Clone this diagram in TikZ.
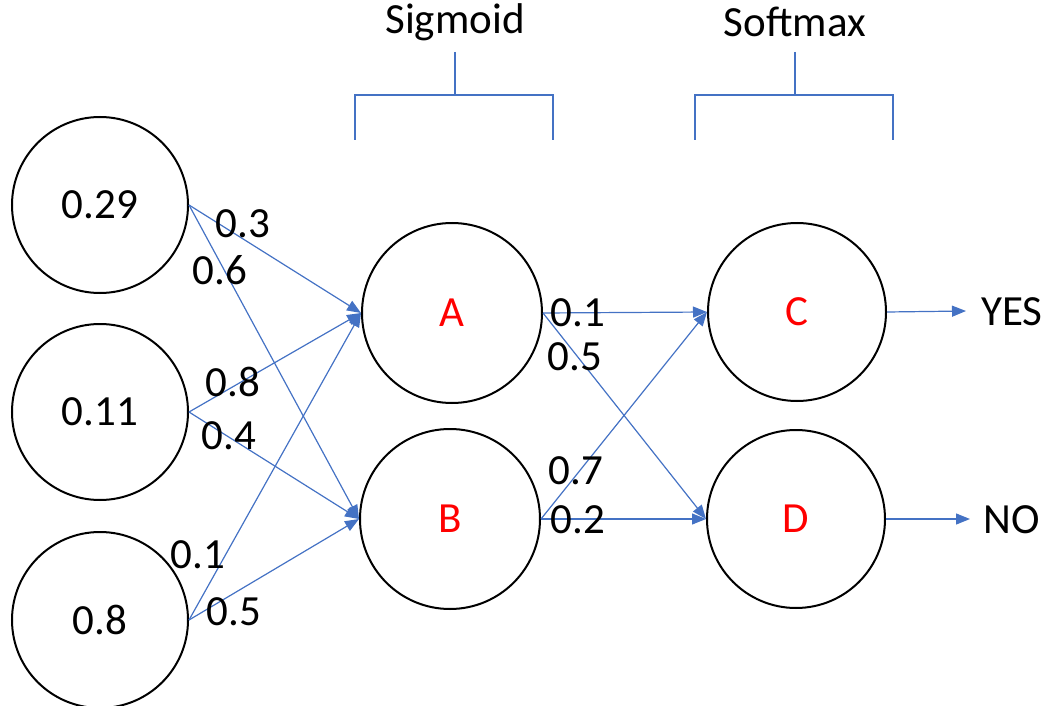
\documentclass[tikz,border=0pt]{standalone}
\usepackage{fontspec}
\setmainfont{Carlito}
\usetikzlibrary{arrows.meta}
\definecolor{lineblue}{RGB}{68,114,196}
\begin{document}
\begin{tikzpicture}[x=1pt,y=-1pt,
  neuron/.style={draw=black,line width=2pt,circle,minimum size=#1,inner sep=0pt,font=\fontsize{43}{50}\selectfont},
  neuron/.default=176pt,
  lbl/.style={font=\fontsize{43}{50}\selectfont,inner sep=0pt},
  conn/.style={draw=lineblue,line width=1.2pt,-{Triangle[length=14pt,width=11pt]}},
  brk/.style={draw=lineblue,line width=2.5pt}]
\useasboundingbox (0,0) rectangle (1050,706);
% input nodes
\node[neuron] (i1) at (100,205) {0.29};
\node[neuron] (i2) at (100,412) {0.11};
\node[neuron] (i3) at (100,620) {0.8};
% hidden
\node[neuron=180pt,text=red] (A) at (452,313) {A};
\node[neuron=180pt,text=red] (B) at (450,519) {B};
% output
\node[neuron=178pt,text=red] (C) at (797,312) {C};
\node[neuron=178pt,text=red] (D) at (796,519) {D};
% outputs text
\node[lbl] (yes) at (1012,312) {YES};
\node[lbl] (no) at (1012,520) {NO};
\coordinate (yesend) at (966,311);
\coordinate (noend) at (970,519);
% connectors
\draw[conn] (i1.east) -- (A.west);
\draw[conn] (i1.east) -- (B.west);
\draw[conn] (i2.east) -- (A.west);
\draw[conn] (i2.east) -- (B.west);
\draw[conn] (i3.east) -- (A.west);
\draw[conn] (i3.east) -- (B.west);
\draw[conn] (A.east) -- (C.west);
\draw[conn] (A.east) -- (D.west);
\draw[conn] (B.east) -- (C.west);
\draw[conn] (B.east) -- (D.west);
\draw[conn] (C.east) -- (yesend);
\draw[conn] (D.east) -- (noend);
% weights
\node[lbl] (w1) at (243,224) {0.3};
\node[lbl] (w2) at (220,270) {0.6};
\node[lbl] (w3) at (233,382) {0.8};
\node[lbl] (w4) at (229,436) {0.4};
\node[lbl] (w5) at (198,555) {0.1};
\node[lbl] (w6) at (234,612) {0.5};
\node[lbl] (w7) at (578,313) {0.1};
\node[lbl] (w8) at (575,357) {0.5};
\node[lbl] (w9) at (576,471) {0.7};
\node[lbl] (w10) at (578,520) {0.2};
% brackets
\node[lbl] (sig) at (455,22) {Sigmoid};
\node[lbl] (soft) at (795,22) {Softmax};
\draw[brk] (455,52) -- (455,95);
\draw[brk] (355,140) -- (355,95) -- (553,95) -- (553,140);
\draw[brk] (795,52) -- (795,95);
\draw[brk] (695,140) -- (695,95) -- (893,95) -- (893,140);
\end{tikzpicture}
\end{document}
